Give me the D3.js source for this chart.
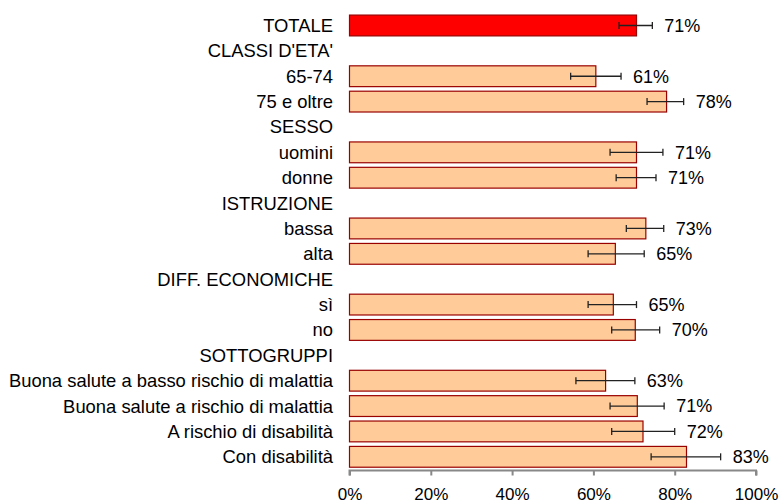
<!DOCTYPE html>
<meta charset="utf-8">
<style>
body { margin: 0; background: #fff; }
text { font-family: "Liberation Sans", Arial, sans-serif; fill: #000; }
.axis path, .axis line { stroke: #888; stroke-width: 2px; }
.axis text { font-size: 17px; }
</style>
<svg width="783" height="504"></svg>
<script src="https://d3js.org/d3.v7.min.js"></script>
<script>

// rows from top to bottom; null = group heading (no bar)
var categories = ["TOTALE", "CLASSI D'ETA'", "65-74", "75 e oltre", "SESSO", "uomini", "donne",
  "ISTRUZIONE", "bassa", "alta", "DIFF. ECONOMICHE", "sì", "no", "SOTTOGRUPPI",
  "Buona salute a basso rischio di malattia", "Buona salute a rischio di malattia",
  "A rischio di disabilità", "Con disabilità"];
var values = [70.6, null, 60.6, 78.0, null, 70.6, 70.6, null, 72.9, 65.4, null, 64.9, 70.3, null,
  63.0, 70.8, 72.2, 82.9];
var lower = [66.3, null, 54.4, 73.2, null, 64.1, 65.6, null, 68.1, 58.7, null, 58.7, 64.5, null,
  55.7, 64.1, 64.5, 74.2];
var upper = [74.5, null, 66.8, 82.2, null, 77.1, 75.4, null, 77.3, 72.5, null, 70.6, 76.3, null,
  70.2, 77.4, 80.0, 91.3];
var ticks = [0, 20, 40, 60, 80, 100];

var rows = categories.map(function(c, i) {
  return {label: c, value: values[i], lo: lower[i], hi: upper[i], total: i === 0};
});

var svg = d3.select("svg");

var x = d3.scaleLinear().domain([0, 100]).range([349.5, 756]);
var y = d3.scaleBand().domain(categories).range([12.8, 469.5]);
var barH = y.bandwidth() * 0.82;

// category labels
svg.append("g").selectAll("text")
  .data(rows)
  .enter().append("text")
    .attr("x", 333)
    .attr("y", function(d) { return y(d.label) + y.bandwidth() / 2; })
    .attr("dy", "0.35em")
    .attr("text-anchor", "end")
    .style("font-size", "18.4px")
    .text(function(d) { return d.label; });

var bars = rows.filter(function(d) { return d.value != null; });

svg.append("g").selectAll("rect")
  .data(bars)
  .enter().append("rect")
    .attr("x", x(0))
    .attr("y", function(d) { return y(d.label) + (y.bandwidth() - barH) / 2; })
    .attr("width", function(d) { return x(d.value) - x(0); })
    .attr("height", barH)
    .attr("fill", function(d) { return d.total ? "#ff0000" : "#ffcc99"; })
    .attr("stroke", "#990000")
    .attr("stroke-width", 1.2);

// error bars
var err = svg.append("g").selectAll("g")
  .data(bars)
  .enter().append("g")
    .attr("transform", function(d) { return "translate(0," + (y(d.label) + y.bandwidth() / 2) + ")"; })
    .attr("stroke", "#222")
    .attr("stroke-width", 1.3);

err.append("line")
    .attr("x1", function(d) { return x(d.lo); })
    .attr("x2", function(d) { return x(d.hi); });
err.append("line")
    .attr("x1", function(d) { return x(d.lo); })
    .attr("x2", function(d) { return x(d.lo); })
    .attr("y1", -3.5).attr("y2", 3.5);
err.append("line")
    .attr("x1", function(d) { return x(d.hi); })
    .attr("x2", function(d) { return x(d.hi); })
    .attr("y1", -3.5).attr("y2", 3.5);

// value labels
svg.append("g").selectAll("text")
  .data(bars)
  .enter().append("text")
    .attr("x", function(d) { return x(d.hi) + 12; })
    .attr("y", function(d) { return y(d.label) + y.bandwidth() / 2; })
    .attr("dy", "0.35em")
    .style("font-size", "18px")
    .text(function(d) { return Math.round(d.value) + "%"; });

// x axis
svg.append("g")
    .attr("class", "axis")
    .attr("transform", "translate(0,470.5)")
    .call(d3.axisBottom(x).tickValues(ticks).tickSize(5).tickPadding(12)
      .tickFormat(function(d) { return d + "%"; }))
    .call(function(g) { g.select(".domain").attr("d", "M" + x(0) + ",5V0H" + x(100) + "V5"); });

</script>
